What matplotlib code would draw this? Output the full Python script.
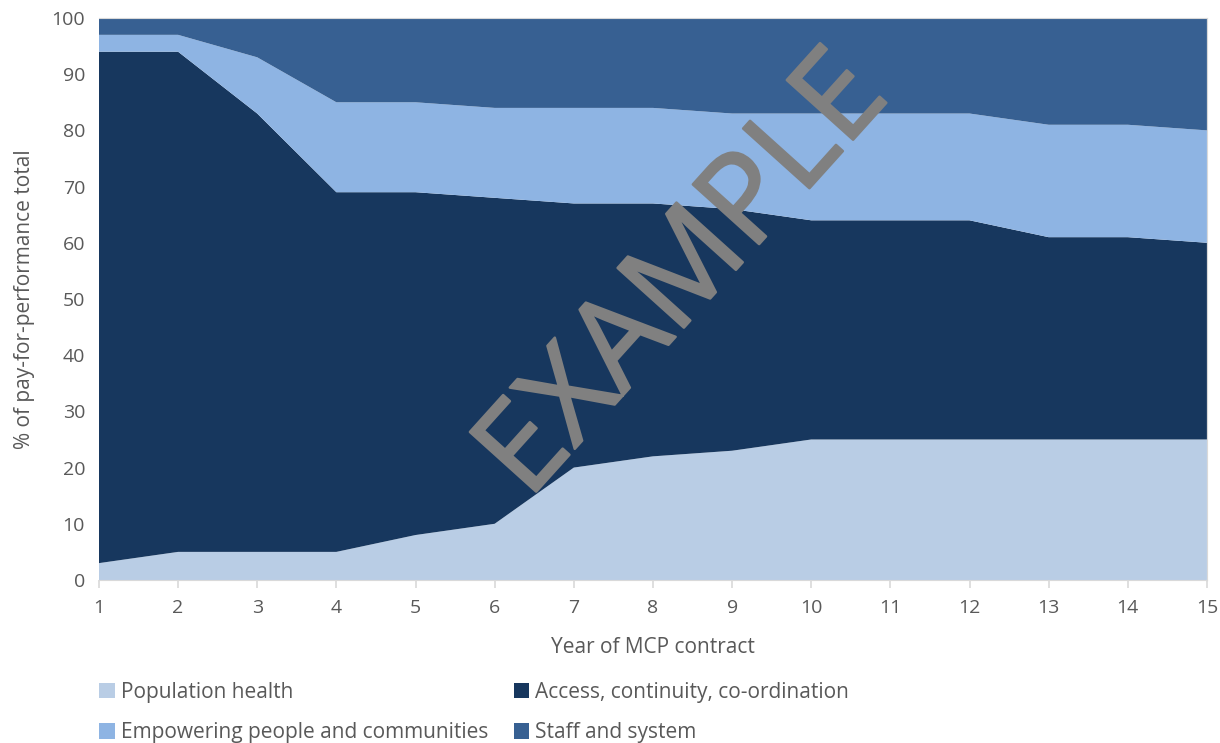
import matplotlib.pyplot as plt
from matplotlib.patches import Patch
import matplotlib.patheffects as pe

years = list(range(1, 16))
population_health = [3, 5, 5, 5, 8, 10, 20, 22, 23, 25, 25, 25, 25, 25, 25]
access_continuity = [91, 89, 78, 64, 61, 58, 47, 45, 43, 39, 39, 39, 36, 36, 35]
empowering_people = [3, 3, 10, 16, 16, 16, 17, 17, 17, 19, 19, 19, 20, 20, 20]
staff_and_system = [3, 3, 7, 15, 15, 16, 16, 16, 17, 17, 17, 17, 19, 19, 20]

labels = ["Population health", "Access, continuity, co-ordination",
          "Empowering people and communities", "Staff and system"]
colors = ["#B9CDE5", "#17375E", "#8EB4E3", "#376092"]

plt.rcParams['font.family'] = ['Open Sans', 'DejaVu Sans']
text_col = "#595959"

fig = plt.figure(figsize=(12.2, 7.43), dpi=100)
ax = fig.add_axes([0.0811, 0.2194, 0.9082, 0.7564])

ax.stackplot(years, population_health, access_continuity, empowering_people,
             staff_and_system, colors=colors, linewidth=0)

ax.set_xlim(1, 15)
ax.set_ylim(0, 100)
ax.set_xticks(years)
ax.set_yticks(range(0, 101, 10))
ax.tick_params(axis='x', colors="#D9D9D9", labelcolor=text_col, labelsize=14,
               length=6, width=1.2, pad=8)
ax.tick_params(axis='y', length=0, labelcolor=text_col, labelsize=14, pad=10)
for side in ['top', 'right', 'bottom']:
    ax.spines[side].set_color("#D9D9D9")
ax.spines['left'].set_visible(False)

ax.set_xlabel("Year of MCP contract", color=text_col, fontsize=15, labelpad=14)
ax.set_ylabel("% of pay-for-performance total", color=text_col, fontsize=15,
              labelpad=12)

# watermark
fig.text(0.562, 0.627, "EXAMPLE", rotation=48, color="#808080", fontsize=90,
         ha='center', va='center', rotation_mode='anchor',
         path_effects=[pe.withStroke(linewidth=1.8, foreground="#808080")])

handles = [Patch(facecolor=c, edgecolor='none') for c in colors]
order = [0, 2, 1, 3]
fig.legend([handles[i] for i in order], [labels[i] for i in order],
           ncol=2, loc='upper left', bbox_to_anchor=(0.066, 0.108),
           frameon=False, fontsize=15, labelcolor=text_col,
           handlelength=0.75, handleheight=0.75, handletextpad=0.3,
           columnspacing=1.2, labelspacing=0.95)

fig.savefig("out.png", dpi=100)
